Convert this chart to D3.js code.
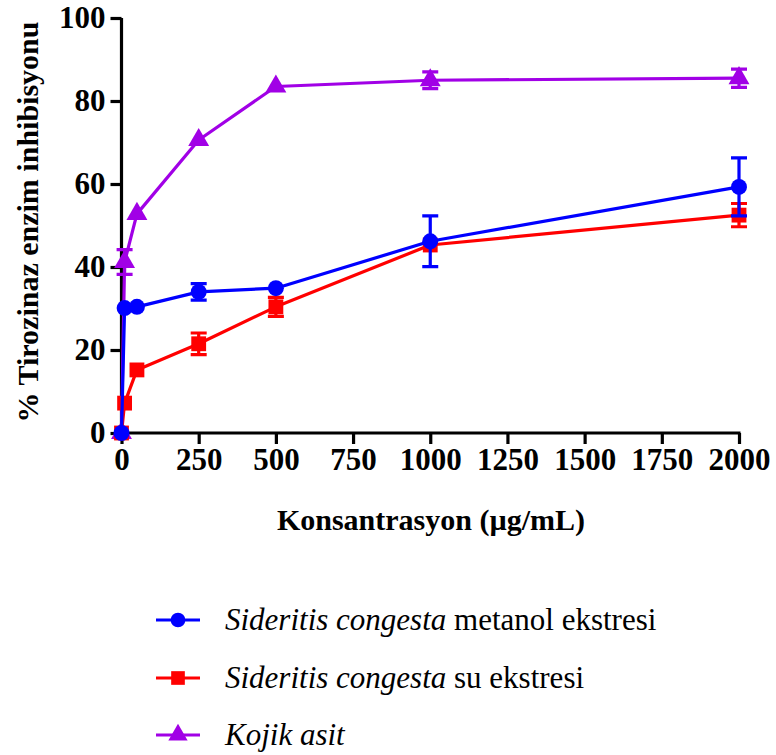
<!DOCTYPE html>
<html><head><meta charset="utf-8">
<script src="https://cdn.jsdelivr.net/npm/d3@7"></script>
<style>
body{margin:0;background:#fff;}
svg{display:block;}
</style></head>
<body><svg id="c" width="776" height="755"></svg>
<script>
const concentrations = [0, 10, 50, 250, 500, 1000, 2000];
const metanolValues = [0, 30.1, 30.4, 34.0, 34.9, 46.2, 59.3];
const metanolErrors = [0, 0, 0, 2.0, 0, 6.1, 7.0];
const suValues = [0, 7.2, 15.2, 21.5, 30.4, 45.3, 52.5];
const suErrors = [0, 0, 0, 2.6, 2.3, 0, 2.8];
const kojikValues = [0, 41.2, 52.8, 70.6, 83.5, 85.0, 85.5];
const kojikErrors = [0, 3.0, 0, 0, 0, 2.0, 2.2];
const xTicks = [0, 250, 500, 750, 1000, 1250, 1500, 1750, 2000];
const yTicks = [0, 20, 40, 60, 80, 100];

const FONT = "Liberation Serif";
const svg = d3.select("#c");
const x = d3.scaleLinear().domain([0, 2000]).range([121.5, 739]);
const y = d3.scaleLinear().domain([0, 100]).range([433, 18]);

const series = [
  {vals: kojikValues, errs: kojikErrors, color: "#A100E6", shape: d3.symbolTriangle, size: 190, italic: "Kojik asit", rest: ""},
  {vals: suValues, errs: suErrors, color: "#FF0000", shape: d3.symbolSquare, size: 220, italic: "Sideritis congesta", rest: " su ekstresi"},
  {vals: metanolValues, errs: metanolErrors, color: "#0000FF", shape: d3.symbolCircle, size: 200, italic: "Sideritis congesta", rest: " metanol ekstresi"}
];

// axes
const yAxis = svg.append("g").attr("transform", "translate(121.5,0)")
  .call(d3.axisLeft(y).tickValues(yTicks).tickSize(11).tickSizeOuter(0).tickPadding(5));
const xAxis = svg.append("g").attr("transform", "translate(0,433)")
  .call(d3.axisBottom(x).tickValues(xTicks).tickFormat(d3.format("d")).tickSize(11).tickSizeOuter(0).tickPadding(4));
[yAxis, xAxis].forEach(g => {
  g.attr("font-family", FONT).attr("font-size", 31);
  g.select(".domain").attr("stroke", "#000").attr("stroke-width", 3.2);
  g.selectAll(".tick line").attr("stroke", "#000").attr("stroke-width", 3.2);
  g.selectAll(".tick text").attr("fill", "#000").attr("font-family", FONT)
    .attr("font-size", 31).attr("font-weight", "bold");
});
yAxis.select(".domain").attr("d", `M0,${y(0)+1.5}V${y(100)}`);
xAxis.select(".domain").attr("d", `M${x(0)-1.5},0H${x(2000)+1.5}`);

// titles
svg.append("text").attr("transform", "translate(38,222) rotate(-90)")
  .attr("text-anchor", "middle").attr("font-family", FONT).attr("font-size", 30).attr("font-weight", "bold")
  .text("% Tirozinaz enzim inhibisyonu");
svg.append("text").attr("x", 431).attr("y", 530)
  .attr("text-anchor", "middle").attr("font-family", FONT).attr("font-size", 30).attr("font-weight", "bold")
  .text("Konsantrasyon (\u00B5g/mL)");

// series
const line = d3.line().x(d => x(d[0])).y(d => y(d[1]));
series.forEach(s => {
  const pts = concentrations.map((c, i) => [c, s.vals[i], s.errs[i]]);
  const g = svg.append("g");
  g.append("path").datum(pts).attr("d", line).attr("fill", "none")
    .attr("stroke", s.color).attr("stroke-width", 3.2).attr("stroke-linejoin", "round");
  pts.filter(p => p[2] > 0).forEach(p => {
    const cx = x(p[0]), y1 = y(p[1] + p[2]), y2 = y(p[1] - p[2]);
    g.append("path").attr("d", `M${cx},${y1}V${y2}M${cx-8},${y1}H${cx+8}M${cx-8},${y2}H${cx+8}`)
      .attr("stroke", s.color).attr("stroke-width", 3.2).attr("fill", "none");
  });
  g.selectAll(".m").data(pts).enter().append("path")
    .attr("transform", d => `translate(${x(d[0])},${y(d[1])})`)
    .attr("d", d3.symbol().type(s.shape).size(s.size)).attr("fill", s.color);
});

// legend
const legendRows = [series[2], series[1], series[0]];
const ly = [620, 678, 735];
legendRows.forEach((s, i) => {
  const g = svg.append("g").attr("transform", `translate(0,${ly[i]})`);
  g.append("line").attr("x1", 156).attr("x2", 200).attr("y1", 0).attr("y2", 0)
    .attr("stroke", s.color).attr("stroke-width", 3.2);
  g.append("path").attr("transform", "translate(178,0)")
    .attr("d", d3.symbol().type(s.shape).size(s.size * 0.85)).attr("fill", s.color);
  const t = g.append("text").attr("x", 225).attr("y", 10).attr("font-family", FONT)
    .attr("font-size", 31).attr("fill", "#000");
  t.append("tspan").attr("font-style", "italic").text(s.italic);
  if (s.rest) t.append("tspan").text(s.rest);
});
</script></body></html>
